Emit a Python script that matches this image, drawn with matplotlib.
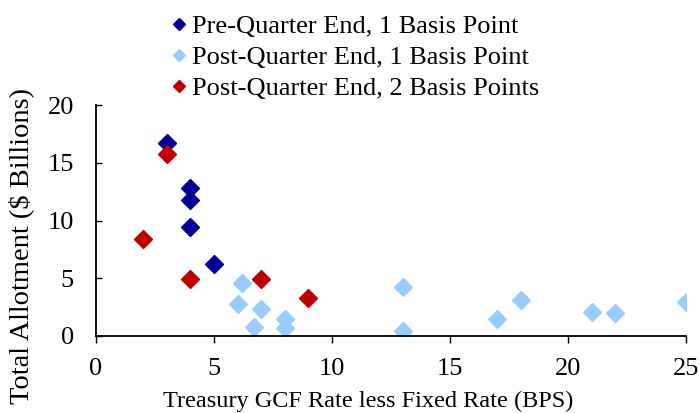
import matplotlib.pyplot as plt

# data
pre_1bp_x = [3, 4, 4, 4, 5]
pre_1bp_y = [16.7, 12.8, 11.8, 9.45, 6.26]

post_1bp_x = [6.2, 6, 7, 6.7, 8, 8, 13, 13, 17, 18, 21, 22, 25]
post_1bp_y = [4.55, 2.78, 2.3, 0.8, 1.5, 0.72, 4.23, 0.46, 1.45, 3.13, 2.1, 2.0, 2.98]

post_2bp_x = [3, 2, 4, 7, 9]
post_2bp_y = [15.8, 8.4, 4.9, 4.96, 3.33]

xticks = [0, 5, 10, 15, 20, 25]
yticks = [0, 5, 10, 15, 20]

plt.rcParams['font.family'] = ['Liberation Serif', 'DejaVu Serif']

fig = plt.figure(figsize=(6.99, 4.13), dpi=100)
ax = fig.add_axes([96/699, 1-336/413, 590/699, 231/413])

ax.plot(pre_1bp_x, pre_1bp_y, 'D', color='#000099', markersize=8.8, label='Pre-Quarter End, 1 Basis Point')
ax.plot(post_1bp_x, post_1bp_y, 'D', color='#99CCFF', markersize=8.8, label='Post-Quarter End, 1 Basis Point')
ax.plot(post_2bp_x, post_2bp_y, 'D', color='#C00000', markersize=8.8, label='Post-Quarter End, 2 Basis Points')

ax.set_xlim(0, 25)
ax.set_ylim(0, 20)
ax.set_xticks(xticks)
ax.set_yticks(yticks)
ax.tick_params(axis='x', direction='out', length=5, width=1, labelsize=19, pad=10.8)
ax.tick_params(axis='y', direction='in', length=4, width=1, labelsize=19, pad=16)
ax.spines['top'].set_visible(False)
ax.spines['right'].set_visible(False)
ax.spines['left'].set_linewidth(1.3)
ax.spines['bottom'].set_linewidth(1.3)
for s in ax.spines.values():
    s.set_clip_on(False)

ax.set_xlabel('Treasury GCF Rate less Fixed Rate (BPS)', fontsize=17.5, va='baseline')
ax.xaxis.set_label_coords((368 - 96) / 590, (336 - 407) / 231)
ax.set_ylabel('Total Allotment ($ Billions)', fontsize=20.5, va='center')
ax.yaxis.set_label_coords((21 - 96) / 590, (336 - 246) / 231)

fig.legend(loc='upper left', bbox_to_anchor=(156.5/699, 1.003), frameon=False, fontsize=19,
           handlelength=0.5, handletextpad=0.23, markerscale=0.73, labelspacing=0.29,
           borderaxespad=0.2)

fig.savefig('out.png', dpi=100)
